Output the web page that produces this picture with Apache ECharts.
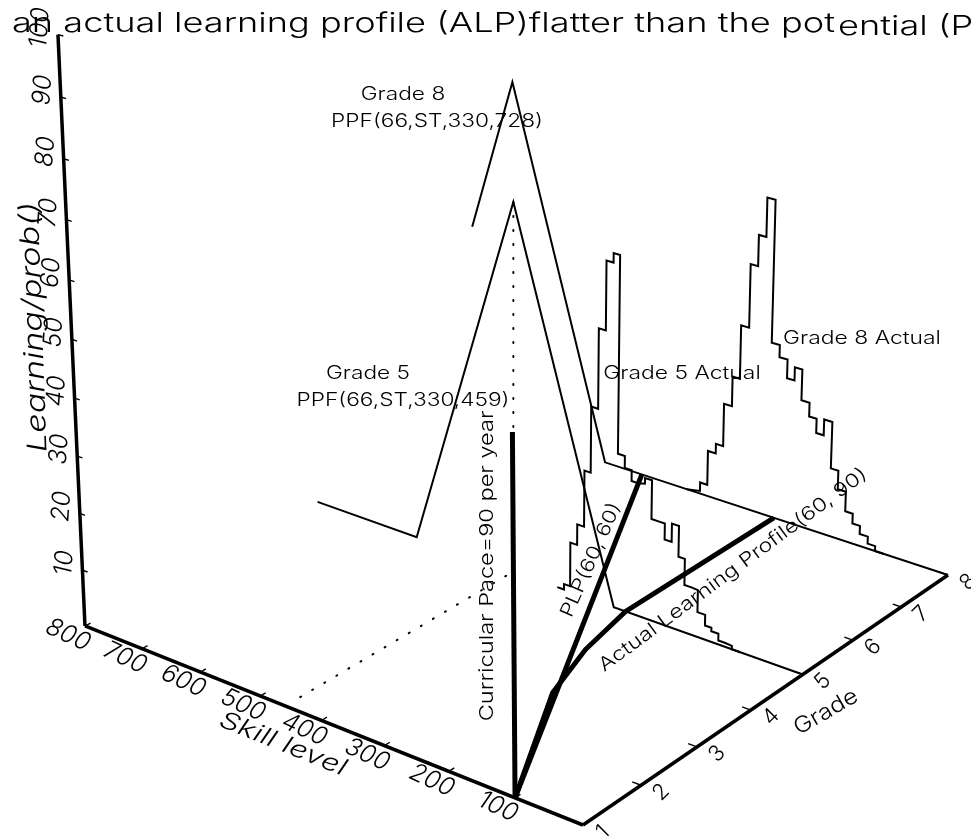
<!DOCTYPE html>
<html>
<head>
<meta charset="utf-8">
<script src="https://cdn.jsdelivr.net/npm/echarts@6/dist/echarts.min.js"></script>
<style>
  html, body { margin: 0; background: #fff; }
  #mainChart { width: 971px; height: 837px; }
</style>
</head>
<body>
<div id="mainChart"></div>
<script>
// tick labels
var skillTicks = [100, 200, 300, 400, 500, 600, 700, 800];
var gradeTicks = [1, 2, 3, 4, 5, 6, 7, 8];
var probTicks = [10, 20, 30, 40, 50, 60, 70, 80, 90, 100];

// PPF triangles (skill, prob)
var ppf5Skill = [0, 294, 459, 624, 800];
var ppf5Prob = [0, 0, 65.4, 0, 0];
var ppf8Skill = [0, 563, 728, 800];
var ppf8Prob = [0, 0, 66.2, 37.2];

// learning profiles on the floor (grade, skill)
var alpGrade = [1, 3, 4, 5, 8];
var alpSkill = [100, 219, 254, 275, 277];
var plpGrade = [1, 8];
var plpSkill = [100, 499];
var paceGrade = [1, 8];
var paceSkill = [100, 728];

// actual histograms: bin edges and heights
var hist5Edges = [386, 375, 365, 354, 343, 333, 322, 311, 300, 290, 279, 268, 257, 247, 236, 225, 215, 204, 193, 183, 172, 162, 150, 140, 129, 119, 108, 95];
var hist5Prob = [0, 1, 8.9, 12.6, 22.6, 34.2, 48.1, 60, 61.6, 27.5, 25.4, 23.5, 23.8, 24.8, 18, 18, 15.2, 18.4, 13, 8.4, 8.3, 4.4, 2.5, 1.9, 0.7, 0.6, 0];
var hist8Edges = [422, 413, 400, 388, 375, 363, 350, 338, 325, 313, 301, 288, 275, 262, 250, 238, 225, 213, 201, 188, 176, 163, 151, 139, 126, 114, 101];
var hist8Prob = [0.2, 0.5, 2.1, 8.5, 10.3, 18.2, 23.7, 33.5, 45, 50.6, 57.6, 32, 29.8, 26.4, 28.8, 23.2, 20.7, 18.1, 21, 12.5, 9.1, 5.5, 3.7, 2.2, 0.9, 0];

var FONT = 'Inter';

// perspective camera for the 3D box, columns for skill/800, (grade-1)/7, prob/100
function project(skill, grade, prob) {
  var u = skill / 800, v = (grade - 1) / 7, z = prob / 100;
  var w = 1 + 0.106 * u + 0.135 * v - 0.0657 * z;
  return [
    (583 - 489 * u + 493 * v - 33.7 * z) / w,
    (825 - 132.65 * u - 172.4 * v - 656.4 * z) / w
  ];
}

function histLine(edges, probs, grade) {
  var pts = [project(edges[0], grade, 0)];
  probs.forEach(function (p, i) {
    pts.push(project(edges[i], grade, p));
    pts.push(project(edges[i + 1], grade, p));
  });
  pts.push(project(edges[edges.length - 1], grade, 0));
  return pts;
}

function line(data, width, dash) {
  return {
    type: 'line', data: data, symbol: 'none', silent: true, animation: false,
    lineStyle: { color: '#000', width: width, type: dash || 'solid', cap: dash ? 'round' : 'butt', join: 'miter' }
  };
}

function tickLabels(data, rotate, size, italic) {
  return {
    type: 'scatter', data: data, symbolSize: 1, silent: true, animation: false,
    itemStyle: { color: 'transparent', opacity: 1 },
    label: {
      show: true, position: 'inside', rotate: rotate, color: '#000', opacity: 1,
      fontFamily: FONT, fontSize: size, fontWeight: 300, fontStyle: italic ? 'italic' : 'normal',
      formatter: function (p) { return p.data[2]; }
    }
  };
}

var series = [];

// axes
series.push(line([project(800, 1, 0), project(0, 1, 0)], 3.5));
series.push(line([project(0, 1, 0), project(0, 8, 0)], 3.5));
series.push(line([project(800, 1, 0), project(800, 1, 100)], 3.5));

// tick marks
skillTicks.forEach(function (s) { series.push(line([project(s, 1, 0), project(s, 1.09, 0)], 1.4)); });
gradeTicks.forEach(function (g) { series.push(line([project(0, g, 0), project(13, g, 0)], 1.4)); });
probTicks.forEach(function (p) { series.push(line([project(800, 1, p), project(791, 1, p)], 1.4)); });

// tick labels
series.push(tickLabels(skillTicks.map(function (s) {
  var p = project(s, 1, 0); return [p[0] - 17, p[1] + 9, String(s)];
}), -25, 25, true));
series.push(tickLabels(gradeTicks.map(function (g) {
  var p = project(0, g, 0); return [p[0] + 20, p[1] + 7, String(g)];
}), 45, 22, false));
series.push(tickLabels(probTicks.map(function (t) {
  var p = project(800, 1, t); return [p[0] - 18, p[1] - 7, String(t)];
}), 86, 25, true));

// PPF triangles
series.push(line(ppf5Skill.map(function (s, i) { return project(s, 5, ppf5Prob[i]); }), 2));
series.push(line(ppf8Skill.map(function (s, i) { return project(s, 8, ppf8Prob[i]); }), 2));

// histograms
series.push(line(histLine(hist5Edges, hist5Prob, 5), 2));
series.push(line(histLine(hist8Edges, hist8Prob, 8), 2));

// droplines from the grade 5 peak
series.push(line([project(459, 5, 65.4), project(459, 5, 0), project(459, 1.2, 0)], 2, [1, 13]));

// profiles
series.push(line(paceGrade.map(function (g, i) { return project(paceSkill[i], g, 0); }), 5));
series.push(line(plpGrade.map(function (g, i) { return project(plpSkill[i], g, 0); }), 5));
series.push(line(alpGrade.map(function (g, i) { return project(alpSkill[i], g, 0); }), 5));

// free text: [text, x, y, degrees, size, x stretch, italic, left aligned]
var notes = [
  ['an actual learning profile (ALP)flatter than the pot', 12, 24, 0, 27, 1.34, false, true],
  ['ential (PLP)', 838, 27, 0, 27, 1.34, false, true],
  ['Grade 8', 403, 95, 0, 18, 1.26, false],
  ['PPF(66,ST,330,728)', 437, 122, 0, 18, 1.26, false],
  ['Grade 5', 368, 374, 0, 18, 1.26, false],
  ['PPF(66,ST,330,459)', 403, 401, 0, 18, 1.26, false],
  ['Grade 5 Actual', 682, 374, 0, 18, 1.27, false],
  ['Grade 8 Actual', 862, 339, 0, 18, 1.27, false],
  ['Curricular Pace=90 per year', 487, 566, 90, 19, 1.24, false],
  ['PLP(60, 60)', 591, 560, 66, 19, 1.18, false],
  ['Actual Learning Profile(60, 90)', 733, 570, 36.5, 19, 1.22, false],
  ['Skill level', 283, 744, -22, 24, 1.32, true],
  ['Grade', 826, 712, 30, 22, 1.13, false],
  ['Learning/prob()', 34, 327, 92, 27, 1.27, true]
];

var chart = echarts.init(document.getElementById('mainChart'), null, { renderer: 'canvas' });
chart.setOption({
  animation: false,
  grid: { left: 0, top: 0, width: 971, height: 837 },
  xAxis: { type: 'value', min: 0, max: 971, show: false },
  yAxis: { type: 'value', min: 0, max: 837, inverse: true, show: false },
  series: series,
  graphic: notes.map(function (n) {
    return {
      type: 'text', x: n[1], y: n[2], rotation: n[3] * Math.PI / 180, scaleX: n[5], silent: true,
      style: {
        text: n[0], fill: '#000', align: n[7] ? 'left' : 'center', verticalAlign: 'middle',
        font: (n[6] ? 'italic ' : '') + '300 ' + n[4] + 'px ' + FONT
      }
    };
  })
});
</script>
</body>
</html>
